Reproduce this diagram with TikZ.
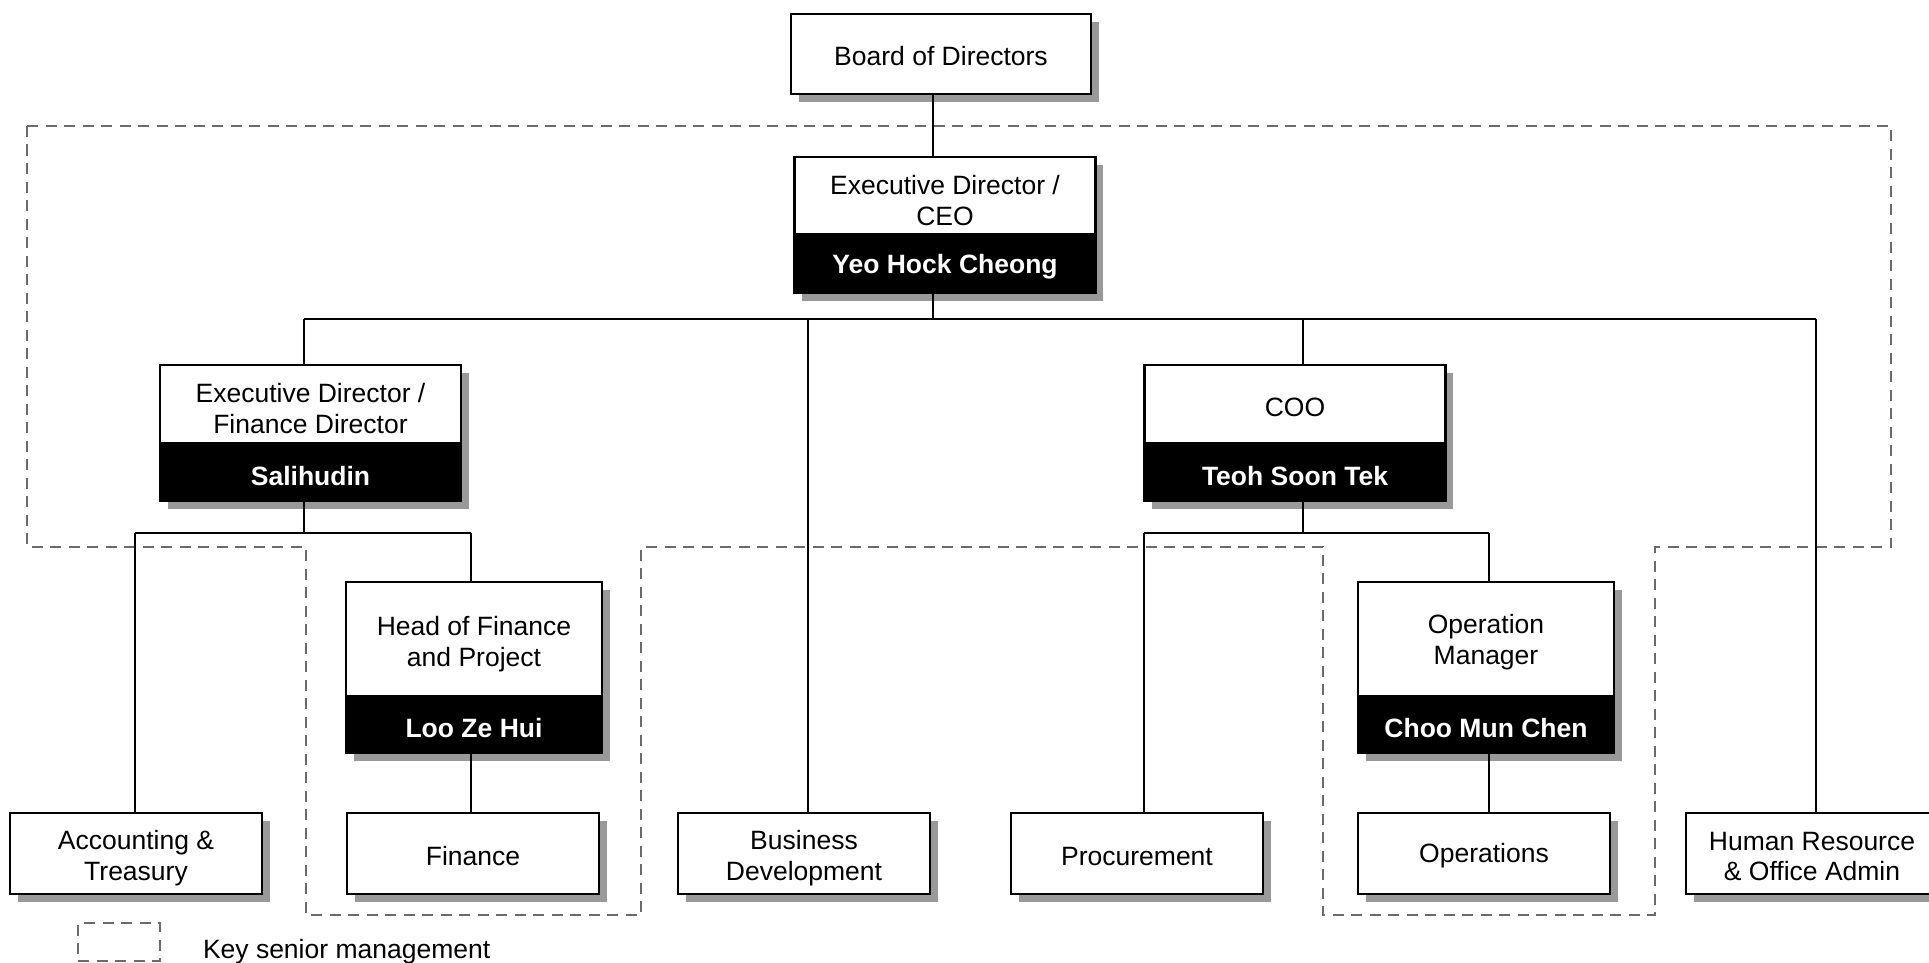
\documentclass[tikz,border=0pt]{standalone}
\usepackage{fontspec}
\setmainfont{Liberation Sans}
\usetikzlibrary{shadows}
\begin{document}
\begin{tikzpicture}[x=0.5pt,y=-0.5pt,
  every node/.style={inner sep=0pt, outer sep=0pt},
  lfont/.style={font=\fontsize{13.25}{15.4}\selectfont},
  shad/.style={drop shadow={shadow xshift=3.8pt, shadow yshift=-3.8pt, fill=black!40, opacity=1}},
  box/.style={draw, line width=1.3pt, fill=white, shad},
  namebox/.style={box, fill=black},
  tl/.style 2 args={label={[lfont, align=center, text=black, yshift=#1]center:#2}},
  nl/.style={label={[lfont, font=\fontsize{13.25}{15.4}\selectfont\bfseries, text=white, yshift=-1.8pt]center:#1}},
  wide/.style={minimum width=150.5pt},
  mid/.style={minimum width=128pt},
  leaf/.style={box, minimum width=126pt, minimum height=40.5pt},
  conn/.style={line width=0.9pt, black},
  keydash/.style={draw=black!58, line width=1.35pt, dash pattern=on 5.5pt off 3.75pt}
]
\useasboundingbox (0,0) rectangle (1929,963);

% key senior management region
\draw[keydash] (27,126) -- (1891,126) -- (1891,547) -- (1655,547) -- (1655,915)
  -- (1323,915) -- (1323,547) -- (641,547) -- (641,915) -- (306,915) -- (306,547)
  -- (27,547) -- cycle;

% nodes
\node[box, minimum width=150pt, minimum height=40pt, tl={-1.2pt}{Board of Directors}] (board) at (941,54) {};
\node[box, wide, minimum height=38.5pt, tl={-2.5pt}{Executive Director /\\CEO}] (ceoT) at (945,195.5) {};
\node[namebox, wide, minimum height=29.5pt, nl={Yeo Hock Cheong}] (ceoN) at (945,263.5) {};

\node[box, wide, minimum height=39pt, tl={-2.2pt}{Executive Director /\\Finance Director}] (fdT) at (310.5,404) {};
\node[namebox, wide, minimum height=29pt, nl={Salihudin}] (fdN) at (310.5,472) {};

\node[box, wide, minimum height=39pt, tl={-1.5pt}{COO}] (cooT) at (1295,404) {};
\node[namebox, wide, minimum height=29pt, nl={Teoh Soon Tek}] (cooN) at (1295,472) {};

\node[box, mid, minimum height=57pt, tl={-2.5pt}{Head of Finance\\and Project}] (hofT) at (474,639) {};
\node[namebox, mid, minimum height=28.5pt, nl={Loo Ze Hui}] (hofN) at (474,724.5) {};

\node[box, mid, minimum height=57pt, tl={-1.5pt}{Operation\\Manager}] (omT) at (1486,639) {};
\node[namebox, mid, minimum height=28.5pt, nl={Choo Mun Chen}] (omN) at (1486,724.5) {};

\node[leaf, tl={-2.5pt}{Accounting \&\\Treasury}] (acc) at (136,853.5) {};
\node[leaf, tl={-1.3pt}{Finance}] (fin) at (473,853.5) {};
\node[leaf, tl={-2.5pt}{Business\\Development}] (bd) at (804,853.5) {};
\node[leaf, tl={-1.3pt}{Procurement}] (proc) at (1137,853.5) {};
\node[leaf, tl={-1.3pt}{Operations}] (ops) at (1484,853.5) {};
\node[leaf, tl={-1.5pt}{Human Resource\\\& Office Admin}] (hr) at (1812,853.5) {};

% bus coordinates
\coordinate (c0) at (933,319);
\coordinate (bfd) at (304,319);
\coordinate (bbd) at (808,319);
\coordinate (bcoo) at (1303,319);
\coordinate (bhr) at (1816,319);
\coordinate (sfd) at (304,533);
\coordinate (sacc) at (135,533);
\coordinate (shof) at (471,533);
\coordinate (scoo) at (1303,533);
\coordinate (sproc) at (1144,533);
\coordinate (som) at (1489,533);

% connectors
\draw[conn] (board.south -| c0) -- (ceoT.north -| c0);
\draw[conn] (ceoN.south -| c0) -- (c0);
\draw[conn] (bfd) -- (bhr);
\draw[conn] (bfd) -- (fdT.north -| bfd);
\draw[conn] (bbd) -- (bd.north -| bbd);
\draw[conn] (bcoo) -- (cooT.north -| bcoo);
\draw[conn] (bhr) -- (hr.north -| bhr);
\draw[conn] (fdN.south -| sfd) -- (sfd);
\draw[conn] (sacc) -- (shof);
\draw[conn] (sacc) -- (acc.north -| sacc);
\draw[conn] (shof) -- (hofT.north -| shof);
\draw[conn] (hofN.south -| shof) -- (fin.north -| shof);
\draw[conn] (cooN.south -| scoo) -- (scoo);
\draw[conn] (sproc) -- (som);
\draw[conn] (sproc) -- (proc.north -| sproc);
\draw[conn] (som) -- (omT.north -| som);
\draw[conn] (omN.south -| som) -- (ops.north -| som);

% legend
\node[keydash, minimum width=41pt, minimum height=19pt] (key) at (119,942) {};
\node[anchor=west, lfont] (keyt) at (203,952) {Key senior management};
\end{tikzpicture}
\end{document}
